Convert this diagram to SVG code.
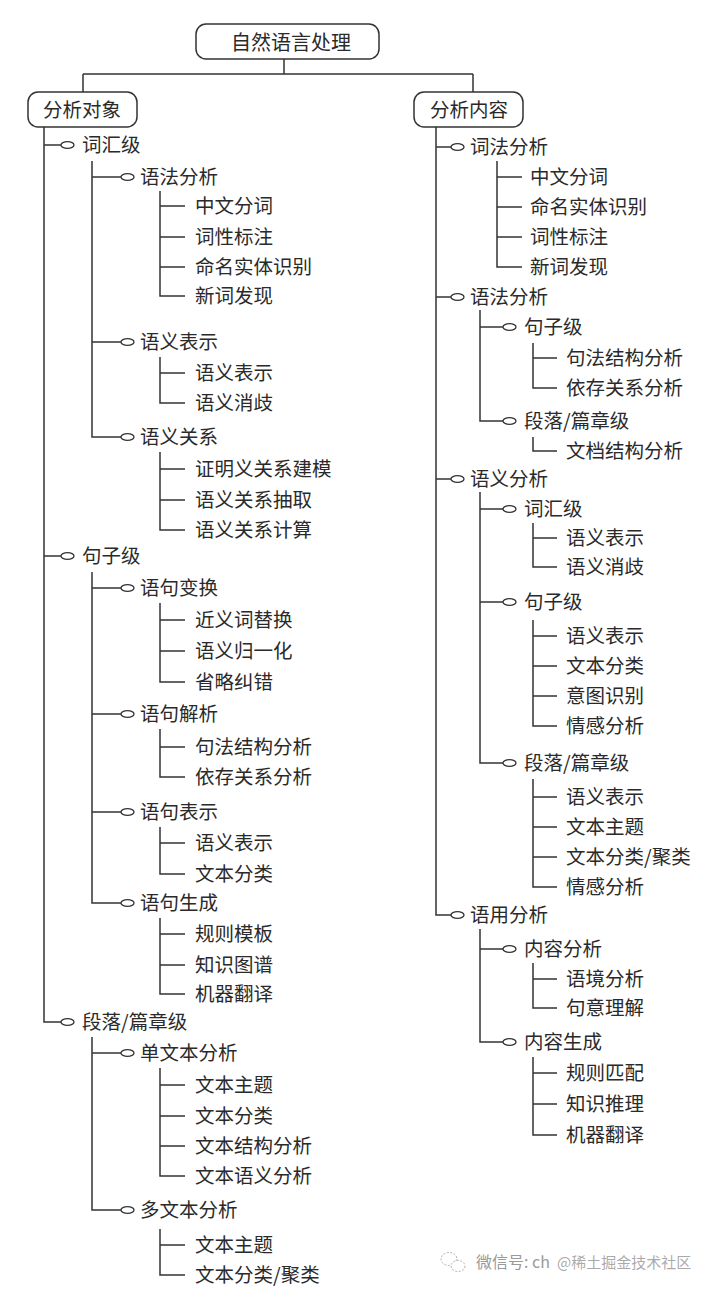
<svg xmlns="http://www.w3.org/2000/svg" width="712" height="1294" viewBox="0 0 712 1294">
<defs>
<style>
.ln{stroke:#333;stroke-width:1.5;fill:none}
.mk{marker-end:url(#oval)}
.box{fill:#fff;stroke:#333;stroke-width:1.5}
.t{font-family:"Noto Sans CJK SC","Noto Sans",sans-serif;font-size:19.5px;fill:#2a2a2a}
.tb{font-size:20px}
.wm{font-family:"Noto Sans CJK SC","Noto Sans",sans-serif;fill:#9a9a9a}
</style>
<marker id="oval" viewBox="0 0 16 10" markerWidth="16" markerHeight="10" refX="1" refY="5" markerUnits="userSpaceOnUse" orient="auto" overflow="visible">
<ellipse cx="7.5" cy="5" rx="6.5" ry="3.4" fill="#fff" stroke="#333" stroke-width="1.3"/>
</marker>
</defs>
<rect width="712" height="1294" fill="#fff"/>

<g id="connectors">
<path class="ln" d="M284,59V74M83,74H473M83,74V92M473,74V92"/>
<!-- left trunk -->
<path class="ln mk" d="M44,145H61"/>
<path class="ln mk" d="M44,556H61"/>
<path class="ln mk" d="M44,127V1022H61"/>
<!-- 词汇级 -->
<path class="ln mk" d="M92,177H121"/>
<path class="ln mk" d="M92,342H121"/>
<path class="ln mk" d="M92,161V437H121"/>
<path class="ln" d="M160,206H185M160,237H185M160,267H185M160,191V296H185"/>
<path class="ln" d="M160,373H185M160,357V403H185"/>
<path class="ln" d="M160,469H185M160,500H185M160,452V530H185"/>
<!-- 句子级 -->
<path class="ln mk" d="M92,588H121"/>
<path class="ln mk" d="M92,714H121"/>
<path class="ln mk" d="M92,812H121"/>
<path class="ln mk" d="M92,572V903H121"/>
<path class="ln" d="M160,620H185M160,651H185M160,603V682H185"/>
<path class="ln" d="M160,747H185M160,729V777H185"/>
<path class="ln" d="M160,843H185M160,827V874H185"/>
<path class="ln" d="M160,934H185M160,965H185M160,918V994H185"/>
<!-- 段落/篇章级 -->
<path class="ln mk" d="M92,1053H121"/>
<path class="ln mk" d="M92,1037V1210H121"/>
<path class="ln" d="M160,1085H185M160,1116H185M160,1146H185M160,1068V1176H185"/>
<path class="ln" d="M160,1245H185M160,1229V1275H185"/>
<!-- right trunk -->
<path class="ln mk" d="M436,147H451"/>
<path class="ln mk" d="M436,297H451"/>
<path class="ln mk" d="M436,479H451"/>
<path class="ln mk" d="M436,127V915H451"/>
<!-- 词法分析 -->
<path class="ln" d="M497,177H522M497,207H522M497,237H522M497,161V267H522"/>
<!-- 语法分析 -->
<path class="ln mk" d="M480,327H503"/>
<path class="ln mk" d="M480,310V421H503"/>
<path class="ln" d="M533,358H557M533,343V388H557"/>
<path class="ln" d="M533,437V451H557"/>
<!-- 语义分析 -->
<path class="ln mk" d="M480,509H503"/>
<path class="ln mk" d="M480,602H503"/>
<path class="ln mk" d="M480,492V763H503"/>
<path class="ln" d="M533,538H557M533,523V567H557"/>
<path class="ln" d="M533,636H557M533,666H557M533,696H557M533,620V726H557"/>
<path class="ln" d="M533,797H557M533,827H557M533,857H557M533,779V887H557"/>
<!-- 语用分析 -->
<path class="ln mk" d="M480,949H503"/>
<path class="ln mk" d="M480,929V1042H503"/>
<path class="ln" d="M533,979H557M533,963V1008H557"/>
<path class="ln" d="M533,1073H557M533,1104H557M533,1057V1135H557"/>
</g>

<g id="n-root"><rect class="box" x="196" y="24" width="183" height="35" rx="10"/><text class="t tb" x="291" y="50" text-anchor="middle">自然语言处理</text></g>
<g id="n-obj"><rect class="box" x="28" y="92" width="109" height="35" rx="10"/><text class="t" x="43" y="116.5">分析对象</text></g>
<g id="n-cnt"><rect class="box" x="414" y="92" width="109" height="35" rx="10"/><text class="t" x="430" y="116.5">分析内容</text></g>

<g id="l-cihui"><text class="t" x="82" y="152">词汇级</text></g>
<g id="l-yufa"><text class="t" x="140" y="184">语法分析</text></g>
<g id="l-yufa-1"><text class="t" x="195" y="213">中文分词</text></g>
<g id="l-yufa-2"><text class="t" x="195" y="244">词性标注</text></g>
<g id="l-yufa-3"><text class="t" x="195" y="274">命名实体识别</text></g>
<g id="l-yufa-4"><text class="t" x="195" y="303">新词发现</text></g>
<g id="l-yybs"><text class="t" x="140" y="349">语义表示</text></g>
<g id="l-yybs-1"><text class="t" x="195" y="380">语义表示</text></g>
<g id="l-yybs-2"><text class="t" x="195" y="410">语义消歧</text></g>
<g id="l-yygx"><text class="t" x="140" y="444">语义关系</text></g>
<g id="l-yygx-1"><text class="t" x="195" y="476">证明义关系建模</text></g>
<g id="l-yygx-2"><text class="t" x="195" y="507">语义关系抽取</text></g>
<g id="l-yygx-3"><text class="t" x="195" y="537">语义关系计算</text></g>
<g id="l-juzi"><text class="t" x="82" y="563">句子级</text></g>
<g id="l-bh"><text class="t" x="140" y="595">语句变换</text></g>
<g id="l-bh-1"><text class="t" x="195" y="627">近义词替换</text></g>
<g id="l-bh-2"><text class="t" x="195" y="658">语义归一化</text></g>
<g id="l-bh-3"><text class="t" x="195" y="689">省略纠错</text></g>
<g id="l-jx"><text class="t" x="140" y="721">语句解析</text></g>
<g id="l-jx-1"><text class="t" x="195" y="754">句法结构分析</text></g>
<g id="l-jx-2"><text class="t" x="195" y="784">依存关系分析</text></g>
<g id="l-bs"><text class="t" x="140" y="819">语句表示</text></g>
<g id="l-bs-1"><text class="t" x="195" y="850">语义表示</text></g>
<g id="l-bs-2"><text class="t" x="195" y="881">文本分类</text></g>
<g id="l-sc"><text class="t" x="140" y="910">语句生成</text></g>
<g id="l-sc-1"><text class="t" x="195" y="941">规则模板</text></g>
<g id="l-sc-2"><text class="t" x="195" y="972">知识图谱</text></g>
<g id="l-sc-3"><text class="t" x="195" y="1001">机器翻译</text></g>
<g id="l-dl"><text class="t" x="82" y="1029">段落/篇章级</text></g>
<g id="l-dan"><text class="t" x="140" y="1060">单文本分析</text></g>
<g id="l-dan-1"><text class="t" x="195" y="1092">文本主题</text></g>
<g id="l-dan-2"><text class="t" x="195" y="1123">文本分类</text></g>
<g id="l-dan-3"><text class="t" x="195" y="1153">文本结构分析</text></g>
<g id="l-dan-4"><text class="t" x="195" y="1183">文本语义分析</text></g>
<g id="l-duo"><text class="t" x="140" y="1217">多文本分析</text></g>
<g id="l-duo-1"><text class="t" x="195" y="1252">文本主题</text></g>
<g id="l-duo-2"><text class="t" x="195" y="1282">文本分类/聚类</text></g>

<g id="r-cf"><text class="t" x="470" y="154">词法分析</text></g>
<g id="r-cf-1"><text class="t" x="530" y="184">中文分词</text></g>
<g id="r-cf-2"><text class="t" x="530" y="214">命名实体识别</text></g>
<g id="r-cf-3"><text class="t" x="530" y="244">词性标注</text></g>
<g id="r-cf-4"><text class="t" x="530" y="274">新词发现</text></g>
<g id="r-yf"><text class="t" x="470" y="304">语法分析</text></g>
<g id="r-yf-jz"><text class="t" x="524" y="334">句子级</text></g>
<g id="r-yf-jz-1"><text class="t" x="566" y="365">句法结构分析</text></g>
<g id="r-yf-jz-2"><text class="t" x="566" y="395">依存关系分析</text></g>
<g id="r-yf-dl"><text class="t" x="524" y="428">段落/篇章级</text></g>
<g id="r-yf-dl-1"><text class="t" x="566" y="458">文档结构分析</text></g>
<g id="r-yy"><text class="t" x="470" y="486">语义分析</text></g>
<g id="r-yy-ch"><text class="t" x="524" y="516">词汇级</text></g>
<g id="r-yy-ch-1"><text class="t" x="566" y="545">语义表示</text></g>
<g id="r-yy-ch-2"><text class="t" x="566" y="574">语义消歧</text></g>
<g id="r-yy-jz"><text class="t" x="524" y="609">句子级</text></g>
<g id="r-yy-jz-1"><text class="t" x="566" y="643">语义表示</text></g>
<g id="r-yy-jz-2"><text class="t" x="566" y="673">文本分类</text></g>
<g id="r-yy-jz-3"><text class="t" x="566" y="703">意图识别</text></g>
<g id="r-yy-jz-4"><text class="t" x="566" y="733">情感分析</text></g>
<g id="r-yy-dl"><text class="t" x="524" y="770">段落/篇章级</text></g>
<g id="r-yy-dl-1"><text class="t" x="566" y="804">语义表示</text></g>
<g id="r-yy-dl-2"><text class="t" x="566" y="834">文本主题</text></g>
<g id="r-yy-dl-3"><text class="t" x="566" y="864">文本分类/聚类</text></g>
<g id="r-yy-dl-4"><text class="t" x="566" y="894">情感分析</text></g>
<g id="r-yong"><text class="t" x="470" y="922">语用分析</text></g>
<g id="r-nrfx"><text class="t" x="524" y="956">内容分析</text></g>
<g id="r-nrfx-1"><text class="t" x="566" y="986">语境分析</text></g>
<g id="r-nrfx-2"><text class="t" x="566" y="1015">句意理解</text></g>
<g id="r-nrsc"><text class="t" x="524" y="1049">内容生成</text></g>
<g id="r-nrsc-1"><text class="t" x="566" y="1080">规则匹配</text></g>
<g id="r-nrsc-2"><text class="t" x="566" y="1111">知识推理</text></g>
<g id="r-nrsc-3"><text class="t" x="566" y="1142">机器翻译</text></g>

<g id="watermark">
<ellipse cx="449" cy="1259" rx="8" ry="6.5" fill="none" stroke="#b0b0b0" stroke-width="1" stroke-dasharray="2 1.5"/>
<ellipse cx="458" cy="1266" rx="7" ry="5.5" fill="#fff" stroke="#b0b0b0" stroke-width="1" stroke-dasharray="2 1.5"/>
<text class="wm" x="476" y="1268" font-size="16">微信号: ch</text>
<text class="wm" x="557" y="1268" font-size="15" fill-opacity="0.85">@稀土掘金技术社区</text>
</g>
</svg>
